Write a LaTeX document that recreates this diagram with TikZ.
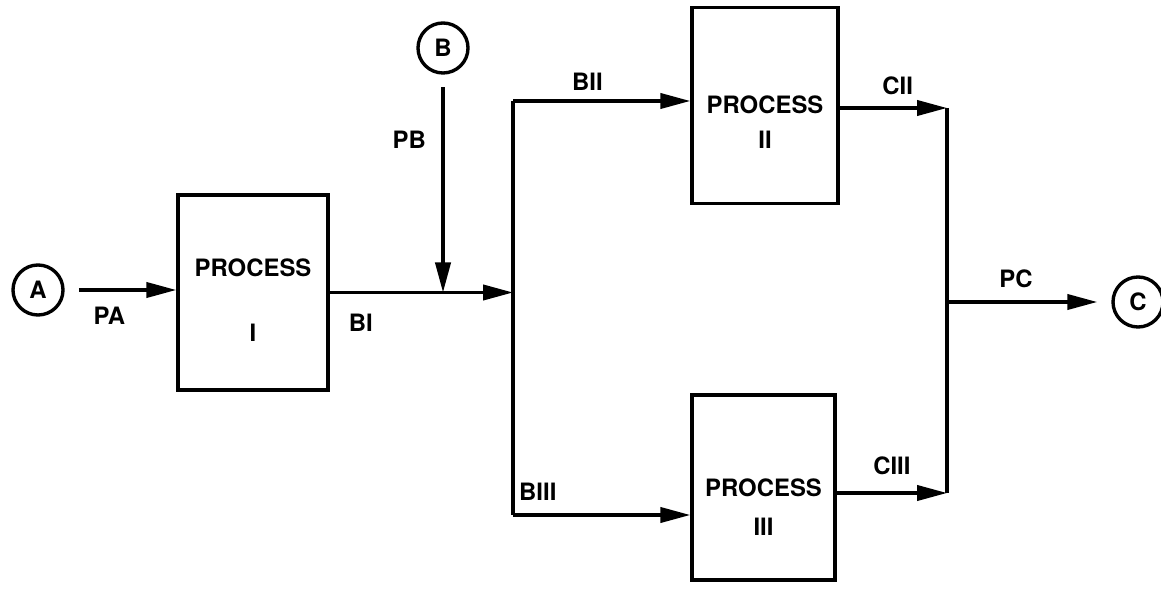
\documentclass[tikz,border=0pt]{standalone}
\usepackage{fontspec}
\setmainfont{TeX Gyre Heros}
\usetikzlibrary{arrows.meta,positioning}

\begin{document}
\begin{tikzpicture}[x=0.025cm, y=-0.025cm, line width=2.4pt,
		font=\fontsize{17}{20}\selectfont\bfseries,
		flow/.style={-{Triangle[length=7.5mm,width=3.8mm]}},
		proc/.style={draw, inner sep=0pt},
		port/.style={draw, circle, minimum size=1.25cm, inner sep=0pt},
		lbl/.style={inner sep=0pt}]
		\useasboundingbox (0,0) rectangle (1161,589);
		% inputs and output
		\node[port] (nodeA) at (38,290) {A};
		\node[port] (nodeB) at (443,48) {B};
		\node[port] (nodeC) at (1138,302) {C};
		% the three processes
		\node[proc, minimum width=3.75cm, minimum height=4.875cm] (procI) at (253,292.5) {};
		\node[lbl] (procIa) at (253,268) {PROCESS};
		\node[lbl] (procIb) at (253,333) {I};
		\node[proc, minimum width=3.65cm, minimum height=4.9cm] (procII) at (765,105.5) {};
		\node[lbl] (procIIa) at (765,105) {PROCESS};
		\node[lbl] (procIIb) at (765,140) {II};
		\node[proc, minimum width=3.575cm, minimum height=4.625cm] (procIII) at (763.5,487.5) {};
		\node[lbl] (procIIIa) at (763.5,488) {PROCESS};
		\node[lbl] (procIIIb) at (763.5,527) {III};
		% split and merge points
		\coordinate (splitB) at (513,292.5);
		\coordinate (topB) at (513,101);
		\coordinate (botB) at (513,515);
		\coordinate (topC) at (947,108);
		\coordinate (botC) at (947,493);
		\coordinate (midC) at (947,302);
		% streams
		\draw[flow, shorten <=10pt] (nodeA) -- (nodeA -| procI.west) node[lbl, pos=0.4, below=11pt] {PA};
		\draw[flow] (procI.east) -- (splitB) node[lbl, pos=0.17, below=14pt] {BI};
		\draw[flow, shorten <=9pt] (nodeB) -- (nodeB |- splitB) node[lbl, pos=0.3, left=11pt] {PB};
		\draw (topB) -- (botB);
		\draw[flow] (topB) -- (topB -| procII.west) node[lbl, pos=0.42, above=6pt] {BII};
		\draw[flow] (botB) -- (botB -| procIII.west) node[lbl, pos=0.14, above=9pt] {BIII};
		\draw[flow] (procII.east |- topC) -- (topC) node[lbl, pos=0.54, above=8pt] {CII};
		\draw[flow] (procIII.east |- botC) -- (botC) node[lbl, pos=0.5, above=12pt] {CIII};
		\draw (topC) -- (botC);
		\draw[flow, shorten >=10pt] (midC) -- (nodeC) node[lbl, pos=0.42, above=9pt] {PC};
	\end{tikzpicture}
\end{document}
